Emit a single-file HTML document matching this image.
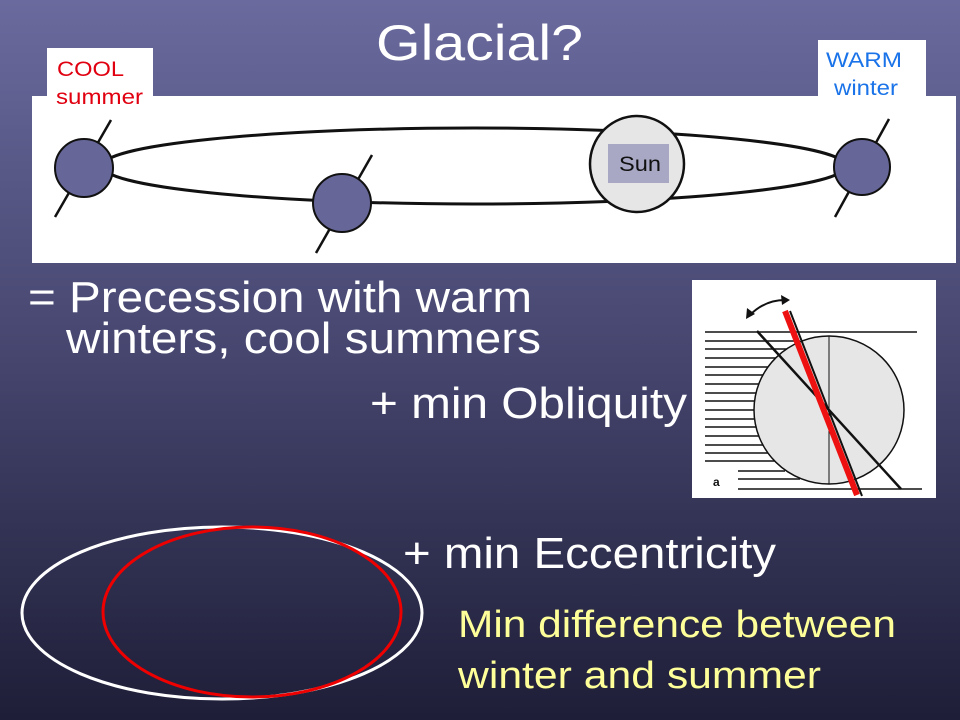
<!DOCTYPE html>
<html><head><meta charset="utf-8"><style>
html,body{margin:0;padding:0;width:960px;height:720px;overflow:hidden}
svg{display:block}
text{font-family:"Liberation Sans",Arial,sans-serif}
</style></head><body>
<svg width="960" height="720" viewBox="0 0 960 720" xmlns="http://www.w3.org/2000/svg">
<defs>
<linearGradient id="bg" x1="0" y1="0" x2="0" y2="1">
<stop offset="0" stop-color="#6a6a9e"/>
<stop offset="0.5" stop-color="#45456e"/>
<stop offset="1" stop-color="#1e1e38"/>
</linearGradient>
</defs>
<rect width="960" height="720" fill="url(#bg)"/>
<text x="376" y="60" font-size="50" fill="#fff" textLength="207" lengthAdjust="spacingAndGlyphs">Glacial?</text>

<!-- orbit panel -->
<rect x="32" y="96" width="924" height="167" fill="#fff"/>
<rect x="47" y="48" width="106" height="58" fill="#fff"/>
<rect x="818" y="40" width="108" height="60" fill="#fff"/>
<text x="57" y="76" font-size="21" fill="#e00010" textLength="67" lengthAdjust="spacingAndGlyphs">COOL</text>
<text x="56" y="104" font-size="21" fill="#e00010" textLength="87" lengthAdjust="spacingAndGlyphs">summer</text>
<text x="826" y="67" font-size="21" fill="#1a73e8" textLength="76" lengthAdjust="spacingAndGlyphs">WARM</text>
<text x="834" y="95" font-size="21" fill="#1a73e8" textLength="64" lengthAdjust="spacingAndGlyphs">winter</text>
<ellipse cx="474" cy="166" rx="372" ry="38" fill="none" stroke="#111" stroke-width="3"/>
<ellipse cx="637" cy="164" rx="47" ry="48" fill="#e6e6e6" stroke="#111" stroke-width="2.5"/>
<rect x="608" y="144" width="61" height="39" fill="#a8a8c4"/>
<text x="619" y="171" font-size="21" fill="#111" textLength="42" lengthAdjust="spacingAndGlyphs">Sun</text>
<g stroke="#111" stroke-width="2.5">
<line x1="111" y1="120" x2="55" y2="217"/>
<line x1="372" y1="155" x2="316" y2="253"/>
<line x1="889" y1="119" x2="835" y2="217"/>
</g>
<g fill="#666699" stroke="#111" stroke-width="2">
<circle cx="84" cy="168" r="29"/>
<circle cx="342" cy="203" r="29"/>
<circle cx="862" cy="167" r="28"/>
</g>

<!-- text -->
<text x="28" y="312" font-size="44" fill="#fff" textLength="504" lengthAdjust="spacingAndGlyphs">= Precession with warm</text>
<text x="66" y="353" font-size="44" fill="#fff" textLength="475" lengthAdjust="spacingAndGlyphs">winters, cool summers</text>
<text x="370" y="418" font-size="44" fill="#fff" textLength="317" lengthAdjust="spacingAndGlyphs">+ min Obliquity</text>
<text x="403" y="568" font-size="44" fill="#fff" textLength="373" lengthAdjust="spacingAndGlyphs">+ min Eccentricity</text>
<text x="458" y="637" font-size="38" fill="#ffff99" textLength="438" lengthAdjust="spacingAndGlyphs">Min difference between</text>
<text x="458" y="688" font-size="38" fill="#ffff99" textLength="363" lengthAdjust="spacingAndGlyphs">winter and summer</text>

<!-- obliquity panel -->
<rect x="692" y="280" width="244" height="218" fill="#fff"/>
<g stroke="#111" stroke-width="1.5">
<line x1="705" y1="332" x2="917" y2="332"/>
<line x1="705" y1="341" x2="800" y2="341"/>
<line x1="705" y1="349" x2="790" y2="349"/>
<line x1="705" y1="358" x2="780" y2="358"/>
<line x1="705" y1="367" x2="772" y2="367"/>
<line x1="705" y1="375" x2="766" y2="375"/>
<line x1="705" y1="384" x2="760" y2="384"/>
<line x1="705" y1="393" x2="757" y2="393"/>
<line x1="705" y1="401" x2="755" y2="401"/>
<line x1="705" y1="410" x2="755" y2="410"/>
<line x1="705" y1="419" x2="755" y2="419"/>
<line x1="705" y1="427" x2="756" y2="427"/>
<line x1="705" y1="436" x2="759" y2="436"/>
<line x1="705" y1="445" x2="763" y2="445"/>
<line x1="705" y1="453" x2="768" y2="453"/>
<line x1="705" y1="461" x2="775" y2="461"/>
<line x1="738" y1="471" x2="785" y2="471"/>
<line x1="738" y1="479" x2="800" y2="479"/>
<line x1="738" y1="489" x2="922" y2="489"/>
</g>
<ellipse cx="829" cy="410" rx="75" ry="74" fill="#e6e6e6" stroke="#111" stroke-width="1.5"/>
<line x1="829" y1="336" x2="829" y2="484" stroke="#111" stroke-width="1"/>
<line x1="757" y1="331" x2="901" y2="489" stroke="#111" stroke-width="2.5"/>
<line x1="790" y1="311" x2="862" y2="496" stroke="#111" stroke-width="2"/>
<line x1="785" y1="311" x2="857" y2="495" stroke="#ee1111" stroke-width="6"/>
<path d="M750,315 Q765,300 785,300" fill="none" stroke="#111" stroke-width="2"/>
<polygon points="746,319 747,308 755,314" fill="#111"/>
<polygon points="790,300 781,295 782,305" fill="#111"/>
<text x="713" y="486" font-size="12" font-weight="bold" fill="#111">a</text>

<!-- ellipses -->
<ellipse cx="222" cy="613" rx="200" ry="86" fill="none" stroke="#fff" stroke-width="3"/>
<ellipse cx="252" cy="612" rx="149" ry="85" fill="none" stroke="#e00" stroke-width="3"/>
</svg>
</body></html>
